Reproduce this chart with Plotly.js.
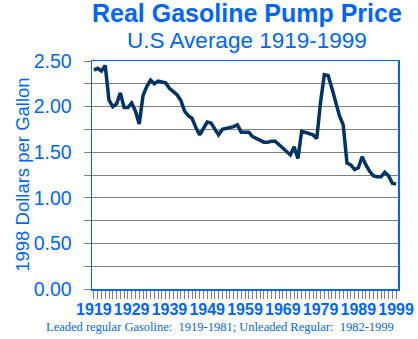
<!DOCTYPE html>
<html>
<head>
<meta charset="utf-8">
<script src="https://cdn.plot.ly/plotly-3.0.1.min.js"></script>
<style>html,body{margin:0;padding:0;background:#fff;}#chart{width:418px;height:339px;}</style>
</head>
<body>
<div id="chart"></div>
<script>
const years = [];
for (let y = 1919; y <= 1999; y++) years.push(y);

const prices = [
  2.40, 2.42, 2.39, 2.45, 2.07, 2.00, 2.03, 2.15, 1.99, 1.99,
  2.04, 1.95, 1.81, 2.12, 2.22, 2.29, 2.25, 2.28, 2.27, 2.26,
  2.20, 2.16, 2.13, 2.07, 1.95, 1.90, 1.87, 1.77, 1.69, 1.76,
  1.83, 1.82, 1.76, 1.69, 1.75, 1.76, 1.77, 1.78, 1.80, 1.72,
  1.72, 1.72, 1.67, 1.65, 1.63, 1.61, 1.61, 1.62, 1.62, 1.58,
  1.55, 1.51, 1.47, 1.56, 1.43, 1.73, 1.72, 1.71, 1.69, 1.65,
  2.05, 2.35, 2.34, 2.20, 2.05, 1.90, 1.80, 1.38, 1.36, 1.31,
  1.33, 1.45, 1.36, 1.29, 1.24, 1.23, 1.23, 1.28, 1.24, 1.16,
  1.15
];

const xTickYears = [1919, 1929, 1939, 1949, 1959, 1969, 1979, 1989, 1999];
const yTickValues = [0, 0.5, 1.0, 1.5, 2.0, 2.5];

const titleText = 'Real Gasoline Pump Price';
const subtitleText = 'U.S Average 1919-1999';
const yTitleText = '1998 Dollars per Gallon';
const footnoteText = 'Leaded regular Gasoline:\u00a0 1919-1981; Unleaded Regular:\u00a0 1982-1999';

const blue = '#0066FF';
const gray = '#808080';

const trace = {
  x: years,
  y: prices,
  type: 'scatter',
  mode: 'lines',
  line: {color: '#003366', width: 3.5},
  hoverinfo: 'x+y'
};

const layout = {
  width: 418,
  height: 339,
  margin: {l: 91.5, r: 19.5, t: 60.5, b: 49.5, pad: 0},
  paper_bgcolor: '#ffffff',
  plot_bgcolor: '#ffffff',
  showlegend: false,
  xaxis: {
    range: [1918.5, 1999.5],
    tickmode: 'array',
    tickvals: xTickYears,
    ticktext: xTickYears.map(String),
    tickangle: 0,
    ticks: 'outside',
    ticklen: 8,
    tickcolor: gray,
    tickwidth: 1,
    ticklabelstandoff: -3,
    showgrid: false,
    zeroline: false,
    showline: true,
    linecolor: blue,
    linewidth: 1.5,
    mirror: true,
    tickfont: {family: 'Liberation Sans, Arial, sans-serif', size: 16, color: blue, weight: 'bold'},
    minor: {tickmode: 'linear', tick0: 1919, dtick: 1, ticks: 'outside', ticklen: 8, tickcolor: gray, tickwidth: 1, showgrid: false},
    fixedrange: true
  },
  yaxis: {
    range: [0, 2.5],
    tickmode: 'array',
    tickvals: yTickValues,
    ticktext: yTickValues.map(v => v.toFixed(2)),
    ticks: 'outside',
    ticklen: 7,
    tickcolor: gray,
    tickwidth: 1,
    ticklabelstandoff: 8,
    showgrid: true,
    gridcolor: gray,
    gridwidth: 1,
    zeroline: false,
    showline: true,
    linecolor: blue,
    linewidth: 1.5,
    mirror: true,
    tickfont: {family: 'Liberation Sans, Arial, sans-serif', size: 19.5, color: blue},
    minor: {tickmode: 'linear', tick0: 0, dtick: 0.25, ticks: 'outside', ticklen: 7, tickcolor: gray, tickwidth: 1, showgrid: true, gridcolor: gray, gridwidth: 1},
    fixedrange: true
  },
  annotations: [
    {text: titleText, xref: 'paper', yref: 'paper', x: 0.5065, y: 1.21, xanchor: 'center', yanchor: 'middle', showarrow: false,
     font: {family: 'Liberation Sans, Arial, sans-serif', size: 25, color: blue, weight: 'bold'}},
    {text: subtitleText, xref: 'paper', yref: 'paper', x: 0.5065, y: 1.09, xanchor: 'center', yanchor: 'middle', showarrow: false,
     font: {family: 'Liberation Sans, Arial, sans-serif', size: 22.5, color: blue}},
    {text: yTitleText, xref: 'paper', yref: 'paper', x: -0.2296, y: 0.5, xanchor: 'center', yanchor: 'middle', textangle: -90, showarrow: false,
     font: {family: 'Liberation Sans, Arial, sans-serif', size: 18.5, color: blue}},
    {text: footnoteText, xref: 'paper', yref: 'paper', x: 0.4186, y: -0.168, xanchor: 'center', yanchor: 'middle', showarrow: false,
     font: {family: 'Liberation Serif, Times New Roman, serif', size: 12.5, color: blue}}
  ]
};

Plotly.newPlot('chart', [trace], layout, {displayModeBar: false, staticPlot: true});
</script>
</body>
</html>
